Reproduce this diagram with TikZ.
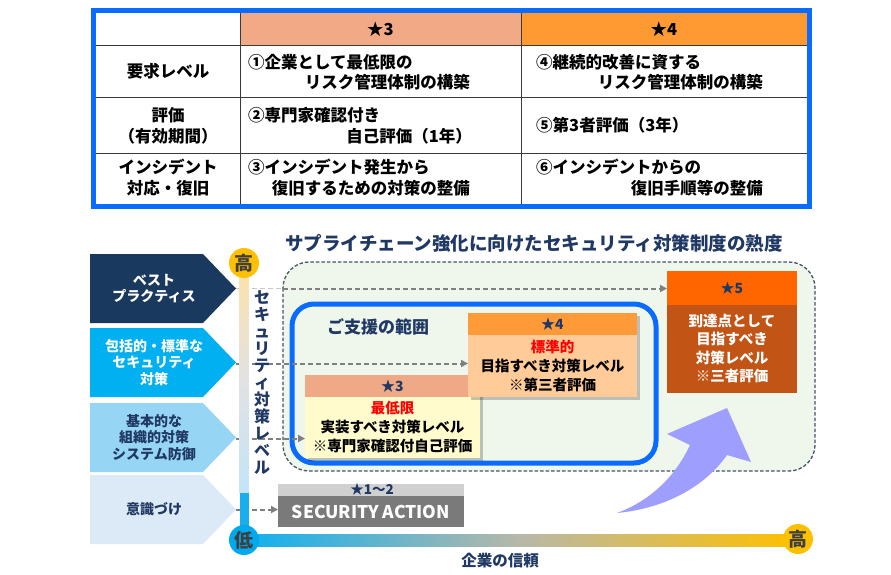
\documentclass[tikz,border=0pt]{standalone}
\usepackage{fontspec}
\setmainfont{Noto Sans CJK JP}
\usetikzlibrary{arrows.meta}
\definecolor{navy}{HTML}{1F3864}
\definecolor{tblue}{HTML}{0A6CFF}
\definecolor{salmon}{HTML}{F2AA86}
\definecolor{orng}{HTML}{FF9A33}
\definecolor{gridc}{HTML}{3A3A3A}
\definecolor{chA}{HTML}{193A5E}
\definecolor{chB}{HTML}{00B0F0}
\definecolor{chC}{HTML}{97D5F5}
\definecolor{chD}{HTML}{DCEAF7}
\definecolor{grn}{HTML}{EFF6EC}
\definecolor{dbox}{HTML}{44546A}
\definecolor{dgray}{HTML}{7F7F7F}
\definecolor{lgray}{HTML}{C8C8C8}
\definecolor{ylw}{HTML}{FFFBCC}
\definecolor{sal3}{HTML}{F0A986}
\definecolor{or4}{HTML}{FF9A38}
\definecolor{lor4}{HTML}{FFCB98}
\definecolor{or5}{HTML}{FF6600}
\definecolor{br5}{HTML}{C25416}
\definecolor{sagray}{HTML}{D0D0D0}
\definecolor{sabody}{HTML}{7A7A7A}
\definecolor{purp}{HTML}{9E9EFF}
\definecolor{vtop}{HTML}{FFE2A6}
\definecolor{vmid}{HTML}{E2E2E2}
\definecolor{vbot}{HTML}{C2E5F8}
\definecolor{axblue}{HTML}{1AAEEC}
\definecolor{hl}{HTML}{0FB0F0}
\definecolor{hm}{HTML}{B8B8A8}
\definecolor{hr}{HTML}{FFC000}
\definecolor{cirO}{HTML}{FFC000}
\definecolor{cirB}{HTML}{00A8EC}
\definecolor{cirT}{HTML}{3F3F3F}
\tikzset{
  cell/.style={font=\bfseries\fontsize{16.5}{20}\selectfont, inner sep=0pt},
  gline/.style={draw=gridc, line width=1pt},
  chev/.style={font=\bfseries\fontsize{14}{16.8}\selectfont, align=center, inner sep=0pt},
  darrow/.style={draw=dgray, line width=2pt, dash pattern=on 5pt off 3pt, -{Triangle[length=7pt,width=7pt]}},
  ldash/.style={draw=lgray, line width=1.5pt, dash pattern=on 5pt off 3pt},
  btxt/.style={font=\bfseries\fontsize{14.5}{18.5}\selectfont, align=center, inner sep=0pt},
  stxt/.style={font=\bfseries\fontsize{14}{16}\selectfont, text=navy, inner sep=0pt},
  boxn/.style={inner sep=0pt, anchor=north west},
  axcirc/.style={circle, minimum size=30pt, inner sep=0pt, text=cirT, font=\bfseries\fontsize{19}{20}\selectfont},
}
\begin{document}
\begin{tikzpicture}[x=1pt,y=-1pt]
\useasboundingbox (0,0) rectangle (891,574);
\fill[white] (0,0) rectangle (891,574);

% ---------------- table ----------------
\fill[white] (95.5,13) rectangle (807,204);
\fill[salmon] (240,13) rectangle (521,45);
\fill[orng] (521,13) rectangle (807,45);
\draw[gline] (95.5,45) -- (807,45);
\draw[gline] (95.5,97) -- (807,97);
\draw[gline] (95.5,153) -- (807,153);
\draw[gline] (240,13) -- (240,204);
\draw[gline] (521,13) -- (521,204);
\draw[tblue, line width=5pt] (93,10.5) rectangle (809.5,206.5);

\node[cell] (h3) at (380.5,29) {★3};
\node[cell] (h4) at (664,29) {★4};
\node[cell] (r1) at (168,71) {要求レベル};
\node[cell] (r2a) at (168,115) {評価};
\node[cell] (r2b) at (168,136) {（有効期間）};
\node[cell] (r3a) at (168,167) {インシデント};
\node[cell] (r3b) at (168,188) {対応・復旧};

\node[cell, anchor=west] (a1) at (248,62) {①企業として最低限の};
\node[cell, anchor=east] (a2) at (470,82) {リスク管理体制の構築};
\node[cell, anchor=west] (b1) at (248,115) {②専門家確認付き};
\node[cell, anchor=east] (b2) at (472,136) {自己評価（1年）};
\node[cell, anchor=west] (c1) at (248,167) {③インシデント発生から};
\node[cell, anchor=east] (c2) at (470,188) {復旧するための対策の整備};

\node[cell, anchor=west] (d1) at (536,62) {④継続的改善に資する};
\node[cell, anchor=east] (d2) at (763,82) {リスク管理体制の構築};
\node[cell, anchor=west] (e1) at (536,125) {⑤第3者評価（3年）};
\node[cell, anchor=west] (f1) at (536,167) {⑥インシデントからの};
\node[cell, anchor=east] (f2) at (763,188) {復旧手順等の整備};

% ---------------- lower part ----------------
\node[navy, font=\bfseries\fontsize{18.5}{20}\selectfont, inner sep=0pt] (title) at (534,243)
  {サプライチェーン強化に向けたセキュリティ対策制度の熟度};

% dashed green box
\draw[fill=grn, draw=dbox, line width=1.3pt, dash pattern=on 3.5pt off 2pt, rounded corners=26pt]
  (283,262) rectangle (815,471);

% chevrons
\fill[chA] (90,254) -- (203,254) -- (236,288.5) -- (203,323) -- (90,323) -- cycle;
\fill[chB] (90,328) -- (203,328) -- (236,362.5) -- (203,397) -- (90,397) -- cycle;
\fill[chC] (90,403) -- (203,403) -- (236,437.5) -- (203,472) -- (90,472) -- cycle;
\fill[chD] (90,475) -- (203,475) -- (236,509.5) -- (203,544) -- (90,544) -- cycle;
\coordinate (t1) at (236,288.5);
\coordinate (t2) at (236,363.5);
\coordinate (t3) at (236,438.5);
\coordinate (t4) at (236,509.5);
\coordinate (k1) at (283,288.5);
\node[chev, text=white] (cA) at (154,288.5) {ベスト\\プラクティス};
\node[chev, text=white] (cB) at (154,362.5) {包括的・標準な\\セキュリティ\\対策};
\node[chev, text=navy] (cC) at (154,437.5) {基本的な\\組織的対策\\システム防御};
\node[chev, text=navy] (cD) at (154,509.5) {意識づけ};

% blue support frame
\draw[tblue, line width=5pt, rounded corners=22pt] (292,304) rectangle (656,463);
\node[navy, font=\bfseries\fontsize{17}{18}\selectfont, inner sep=0pt] (sup) at (378,327) {ご支援の範囲};

% star boxes (bodies as named nodes)
\fill[black, opacity=0.22] (308,378) rectangle (483,461);
\node[boxn, fill=ylw, minimum width=175pt, minimum height=83pt] (s3) at (305,375) {};
\fill[sal3] (305,375) rectangle (480,397);
\node[stxt] (s3h) at (392.5,386) {★3};
\node[btxt] (s3a) at (392.5,408) {\textcolor{red}{最低限}};
\node[btxt] (s3b) at (392.5,427) {実装すべき対策レベル};
\node[btxt] (s3c) at (392.5,445.5) {※専門家確認付自己評価};

\fill[black, opacity=0.22] (471,316) rectangle (640,400);
\node[boxn, fill=lor4, minimum width=169pt, minimum height=84pt] (s4) at (468,313) {};
\fill[or4] (468,313) rectangle (637,335);
\node[stxt] (s4h) at (552.5,324) {★4};
\node[btxt] (s4a) at (552.5,346.5) {\textcolor{red}{標準的}};
\node[btxt] (s4b) at (552.5,366) {目指すべき対策レベル};
\node[btxt] (s4c) at (552.5,384.5) {※第三者評価};

\node[boxn, fill=br5, minimum width=130pt, minimum height=122pt] (s5) at (667,271) {};
\fill[or5] (667,271) rectangle (797,305);
\node[stxt] (s5h) at (732,288) {★5};
\node[btxt, text=white] (s5b) at (732,348.5) {到達点として\\目指すべき\\対策レベル\\※三者評価};

% security action
\node[boxn, fill=sabody, minimum width=186pt, minimum height=43pt] (sa) at (278,484) {};
\fill[sagray] (278,484) rectangle (464,496);
\node[font=\bfseries\fontsize{13.5}{14}\selectfont, text=navy, inner sep=0pt] (sah) at (372,489.5) {★1〜2};
\node[font=\bfseries\fontsize{17.5}{18}\selectfont, text=white, inner sep=0pt] (sab) at (371,511.5) {SECURITY ACTION};

% dashed connectors
\draw[ldash] (t1) -- (k1);
\draw[darrow] (k1) -- (s5.west |- k1);
\draw[darrow] (t2) -- (s4.west |- t2);
\draw[darrow] (t3) -- (s3.west |- t3);
\draw[darrow] (t4) -- (sa.west |- t4);

% curved arrow
\fill[purp] (617,513) .. controls (668,508) and (706,485) .. (727,455)
  -- (751,462) -- (727,408) -- (667,434) -- (690,445)
  .. controls (676,475) and (652,500) .. (617,513) -- cycle;

% axes
\shade[top color=vtop, bottom color=vbot, middle color=vmid] (239.5,263) rectangle (248.5,493);
\fill[axblue] (239.5,493) rectangle (248.5,540);
\shade[left color=hl, right color=hr, middle color=hm] (244,534.5) rectangle (798,546.5);
\node[axcirc, fill=cirO] (hiV) at (244,263) {高};
\node[axcirc, fill=cirB] (lo) at (244,540) {低};
\node[axcirc, fill=cirO] (hiH) at (798,539) {高};

\node[navy, font=\bfseries\fontsize{16}{17}\selectfont, align=center, inner sep=0pt] (vlab) at (262,383)
  {セ\\キ\\ュ\\リ\\テ\\ィ\\対\\策\\レ\\ベ\\ル};
\node[navy, font=\bfseries\fontsize{15.5}{17}\selectfont, inner sep=0pt] (trust) at (500,561) {企業の信頼};
\end{tikzpicture}
\end{document}
